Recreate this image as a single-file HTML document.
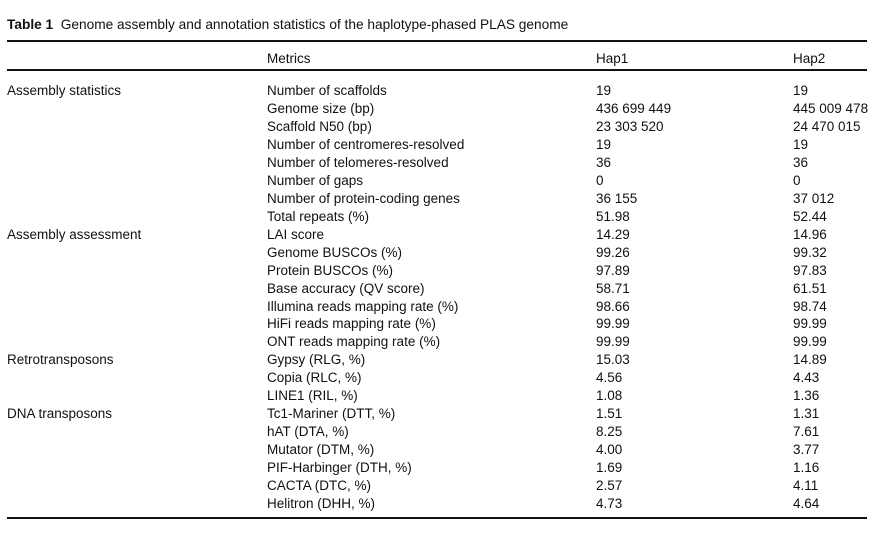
<!DOCTYPE html><html><head><style>
body{margin:0;width:873px;height:534px;background:#fff;font-family:"Liberation Sans",sans-serif;font-size:13.5px;color:#111;position:relative;overflow:hidden}
div{position:absolute;white-space:nowrap;line-height:14px}
.r{position:absolute;left:7px;width:860px;height:1.5px;background:#111}
</style></head><body>
<div style="left:7px;top:18px;font-size:13.7px"><b>Table 1</b>&nbsp; Genome assembly and annotation statistics of the haplotype-phased PLAS genome</div>
<span class="r" style="top:40px"></span>
<div style="left:267px;top:52px">Metrics</div><div style="left:596px;top:52px">Hap1</div><div style="left:793px;top:52px">Hap2</div>
<span class="r" style="top:69px"></span>
<span class="r" style="top:517px"></span>
<script>
const rows=[["Assembly statistics","Number of scaffolds","19","19"],["","Genome size (bp)","436 699 449","445 009 478"],["","Scaffold N50 (bp)","23 303 520","24 470 015"],["","Number of centromeres-resolved","19","19"],["","Number of telomeres-resolved","36","36"],["","Number of gaps","0","0"],["","Number of protein-coding genes","36 155","37 012"],["","Total repeats (%)","51.98","52.44"],["Assembly assessment","LAI score","14.29","14.96"],["","Genome BUSCOs (%)","99.26","99.32"],["","Protein BUSCOs (%)","97.89","97.83"],["","Base accuracy (QV score)","58.71","61.51"],["","Illumina reads mapping rate (%)","98.66","98.74"],["","HiFi reads mapping rate (%)","99.99","99.99"],["","ONT reads mapping rate (%)","99.99","99.99"],["Retrotransposons","Gypsy (RLG, %)","15.03","14.89"],["","Copia (RLC, %)","4.56","4.43"],["","LINE1 (RIL, %)","1.08","1.36"],["DNA transposons","Tc1-Mariner (DTT, %)","1.51","1.31"],["","hAT (DTA, %)","8.25","7.61"],["","Mutator (DTM, %)","4.00","3.77"],["","PIF-Harbinger (DTH, %)","1.69","1.16"],["","CACTA (DTC, %)","2.57","4.11"],["","Helitron (DHH, %)","4.73","4.64"]];
let h="";const xs=[7,267,596,793];
rows.forEach((r,i)=>{const y=84+i*17.96;r.forEach((c,j)=>{if(c)h+=`<div style="left:${xs[j]}px;top:${y}px">${c}</div>`})});
document.body.insertAdjacentHTML("beforeend",h);
</script>
</body></html>
